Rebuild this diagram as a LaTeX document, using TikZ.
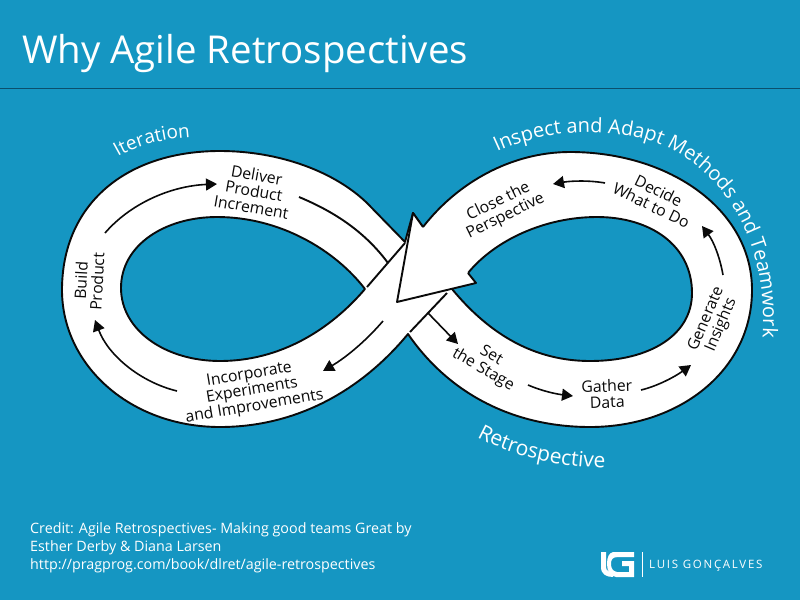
\documentclass[tikz,border=0pt]{standalone}
\usepackage{fontspec}
\setmainfont{Open Sans}
\usetikzlibrary{arrows.meta,decorations.text}
\definecolor{sea}{HTML}{1596C2}
\definecolor{rule}{HTML}{0B4F6C}
\definecolor{ink}{HTML}{0A0A0A}
\tikzset{
  band/.style={draw=ink,fill=white,line width=1.9pt,line join=round},
  hole/.style={draw=ink,fill=sea,line width=1.9pt,line join=round},
  bandline/.style={draw=ink,line width=1.9pt},
  flow/.style={-{Triangle[length=11pt,width=12pt]},draw=ink,line width=1.6pt},
  steplabel/.style={font=\fontsize{15.8}{16.2}\selectfont,text=ink,align=center,inner sep=0pt},
  credit/.style={font=\fontsize{14.3}{14.3}\selectfont,text=white,anchor=west,inner sep=0pt}
}
\begin{document}
\begin{tikzpicture}[x=1pt,y=-1pt]
  \fill[sea] (0,0) rectangle (800,600);
  \useasboundingbox (0,0) rectangle (800,600);
  \draw[rule,line width=1.8pt] (0,88.5) -- (800,88.5);
  \node[font=\fontsize{38.4}{38.4}\selectfont,text=white,anchor=west,inner sep=0pt] (title) at (22,54) {Why Agile Retrospectives};

  % figure of eight
  \draw[band] (408,334) .. controls (360,392) and (295,427) .. (220,427)
    .. controls (130,427) and (62,365) .. (62,290)
    .. controls (62,205) and (125,151) .. (220,151)
    .. controls (280,151) and (335,172) .. (367,203)
    -- (405,242) -- (413,213) -- (423,227)
    .. controls (458,182) and (512,152) .. (570,152)
    .. controls (670,152) and (752,210) .. (752,290)
    .. controls (752,370) and (680,427) .. (590,427)
    .. controls (515,427) and (450,395) .. (408,334) -- cycle;
  \draw[hole] (365,289) .. controls (335,250) and (280,217) .. (217,217)
    .. controls (165,217) and (121,245) .. (121,288)
    .. controls (121,330) and (165,361) .. (220,361)
    .. controls (280,361) and (330,330) .. (365,289) -- cycle;
  \draw[hole] (468,273) .. controls (495,240) and (545,217) .. (597,217)
    .. controls (650,217) and (692,245) .. (692,293)
    .. controls (692,335) and (650,361) .. (590,361)
    .. controls (535,361) and (490,335) .. (452,289) -- cycle;

  % big arrow head
  \fill[white] (413,213) -- (423,227) -- (468,273) -- (476,283) -- (397,302) -- cycle;
  \draw[bandline,line join=round] (423,227) -- (413,213) -- (397,302) -- (476,283) -- (468,273);

  % band edges at the crossing
  \draw[bandline] (405,243) -- (367,287);
  \draw[bandline] (447,293) -- (410,332);
  \draw[bandline] (299,197) .. controls (335,212) and (365,232) .. (388,263);

  % steps
  \node[steplabel,rotate=87] (build) at (89,281) {Build\\Product};
  \node[steplabel,rotate=-10] (deliver) at (254,191) {Deliver\\Product\\Increment};
  \node[steplabel,rotate=9.5] (incorporate) at (252,391) {Incorporate\\Experiments\\and Improvements};
  \node[steplabel,rotate=-30] (stage) at (487,363) {Set\\the Stage};
  \node[steplabel,rotate=2] (gather) at (607,394) {Gather\\Data};
  \node[steplabel,rotate=67] (generate) at (714,322) {Generate\\Insights};
  \node[steplabel,rotate=-26] (decide) at (655,198) {Decide\\What to Do};
  \node[steplabel,rotate=26] (close) at (502,209) {Close the\\Perspective};

  % arrows between the steps
  \coordinate (buildOut) at (105,233);
  \coordinate (deliverIn) at (217,184);
  \coordinate (incorporateOut) at (177,391);
  \coordinate (buildIn) at (95,320);
  \coordinate (crossOut) at (383,321);
  \coordinate (incorporateIn) at (323,371);
  \coordinate (crossIn) at (428,313);
  \coordinate (stageIn) at (458,344);
  \coordinate (stageOut) at (528,385);
  \coordinate (gatherIn) at (573,396);
  \coordinate (gatherOut) at (641,390);
  \coordinate (generateIn) at (691,365);
  \coordinate (generateOut) at (723,275);
  \coordinate (decideIn) at (702,226);
  \coordinate (decideOut) at (605,183);
  \coordinate (closeIn) at (553,184);
  \draw[flow] (buildOut) .. controls (130,204) and (170,186) .. (deliverIn);
  \draw[flow] (incorporateOut) .. controls (140,382) and (108,355) .. (buildIn);
  \draw[flow] (crossOut) .. controls (365,342) and (345,358) .. (incorporateIn);
  \draw[flow] (crossIn) -- (stageIn);
  \draw[flow] (stageOut) .. controls (542,391) and (556,394) .. (gatherIn);
  \draw[flow] (gatherOut) .. controls (658,386) and (676,376) .. (generateIn);
  \draw[flow] (generateOut) .. controls (720,258) and (714,242) .. (decideIn);
  \draw[flow] (decideOut) .. controls (588,180) and (570,181) .. (closeIn);

  % outer labels
  \path[postaction={decorate,decoration={text along path,text align=left,
      text={|\fontsize{19}{19}\selectfont\color{white}|Iteration}}}]
    (118,157) .. controls (137,146) and (160,139) .. (192,137);
  \path[postaction={decorate,decoration={text along path,text align=left,
      text={|\fontsize{20}{20}\selectfont\color{white}|Inspect and Adapt Methods and Teamwork}}}]
    (497,152) .. controls (540,132) and (590,127) .. (640,138)
    .. controls (715,156) and (772,235) .. (762,345);
  \path[postaction={decorate,decoration={text along path,text align=left,
      text={|\fontsize{21}{21}\selectfont\color{white}|Retrospective}}}]
    (477,437) .. controls (510,455) and (560,470) .. (625,468);

  % credit
  \node[credit] (creditA) at (30,530) {Credit: Agile Retrospectives- Making good teams Great by};
  \node[credit] (creditB) at (30,548) {Esther Derby \& Diana Larsen};
  \node[credit] (creditC) at (30,566) {http://pragprog.com/book/dlret/agile-retrospectives};

  % logo
  \fill[white] (601,552) -- (606,552) -- (606,567) .. controls (606,571) and (609,572) .. (613,572) -- (613,577) .. controls (606,577) and (601,574) .. (601,567) -- cycle;
  \fill[white] (613,552) -- (634,552) -- (634,557) -- (618,557) .. controls (612,557) and (611,560) .. (611,564) .. controls (611,569) and (613,571) .. (617,572) -- (629,572) -- (629,566) -- (622,566) -- (622,561) -- (634,561) -- (634,577) -- (616,577) .. controls (610,576) and (607,571) .. (607,564) .. controls (607,557) and (609,553) .. (613,552) -- cycle;
  \draw[white,line width=0.7pt] (642,552) -- (642,577);
  \node[font=\fontsize{11.5}{11.5}\selectfont\addfontfeatures{LetterSpace=15},text=white,anchor=west,inner sep=0pt] (brand) at (649,565.5) {LUIS GONÇALVES};
\end{tikzpicture}
\end{document}
